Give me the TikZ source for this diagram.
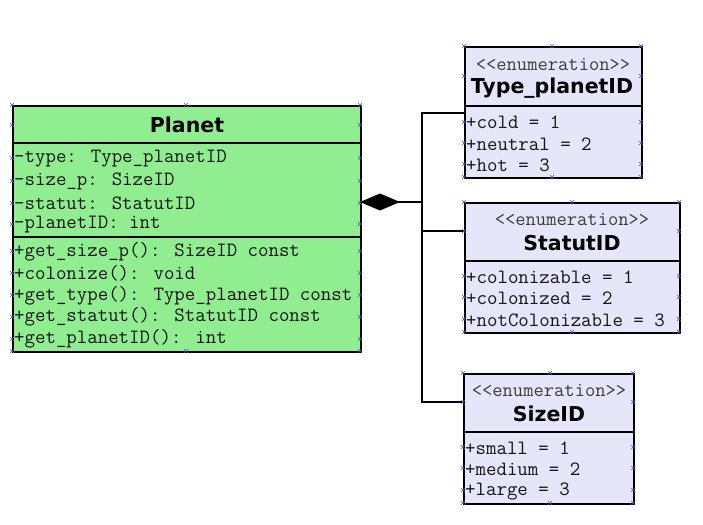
\documentclass[tikz,border=0pt]{standalone}
\usepackage{fontspec}
\newfontfamily\titlefont{DejaVu Sans}
\usetikzlibrary{arrows.meta}
\definecolor{planetgreen}{RGB}{144,238,144}
\definecolor{enumfill}{RGB}{230,230,250}
\definecolor{handle}{RGB}{80,80,210}
\definecolor{rowtext}{RGB}{20,20,20}
\definecolor{stereotext}{RGB}{60,60,60}
\tikzset{
  classbox/.style={draw=black, line width=1.8pt, rectangle, inner sep=0pt, anchor=north west},
  rowtxt/.style={anchor=west, inner sep=0pt, text=rowtext, font=\ttfamily\fontsize{20.3}{22}\selectfont},
  stereo/.style={inner sep=0pt, text=stereotext, font=\ttfamily\fontsize{20}{22}\selectfont},
  titletxt/.style={inner sep=0pt, font=\titlefont\bfseries\fontsize{20.5}{24}\selectfont},
  sep/.style={line width=1.8pt},
  conn/.style={line width=1.8pt},
  hx/.style={draw=handle, line width=0.6pt}
}
\newcommand\hx[2]{\draw[hx] (#1-2,#2-2) -- (#1+2,#2+2) (#1-2,#2+2) -- (#1+2,#2-2);}
\begin{document}
\begin{tikzpicture}[x=1pt,y=-1pt]
\useasboundingbox (0,0) rectangle (703,524);

% ---------- Planet ----------
\node[classbox, fill=planetgreen, minimum width=348pt, minimum height=246pt] (planet) at (12,105) {};
\draw[sep] (12,142.7) -- (360,142.7);
\draw[sep] (12,236.7) -- (360,236.7);
\node[titletxt] (planetT) at (187,125) {Planet};
\node[rowtxt] (pa1) at (14,158.8) {-type: Type\_planetID};
\node[rowtxt] (pa2) at (14,181.2) {-size\_p: SizeID};
\node[rowtxt] (pa3) at (14,203.2) {-statut: StatutID};
\node[rowtxt] (pa4) at (14,224.5) {-planetID: int};
\node[rowtxt] (pm1) at (14,251.5) {+get\_size\_p(): SizeID const};
\node[rowtxt] (pm2) at (14,273.2) {+colonize(): void};
\node[rowtxt] (pm3) at (14,295.5) {+get\_type(): Type\_planetID const};
\node[rowtxt] (pm4) at (14,317.2) {+get\_statut(): StatutID const};
\node[rowtxt] (pm5) at (14,339.2) {+get\_planetID(): int};

% ---------- Type_planetID ----------
\node[classbox, fill=enumfill, minimum width=177pt, minimum height=131pt] (tp) at (464,46) {};
\draw[sep] (464,106.3) -- (641,106.3);
\node[stereo] (tpS) at (553,64.3) {<<enumeration>>};
\node[titletxt] (tpT) at (552,88) {Type\_planetID};
\node[rowtxt] (tp1) at (466,122.2) {+cold = 1};
\node[rowtxt] (tp2) at (466,143.8) {+neutral = 2};
\node[rowtxt] (tp3) at (466,164.8) {+hot = 3};

% ---------- StatutID ----------
\node[classbox, fill=enumfill, minimum width=215pt, minimum height=130.6pt] (st) at (464,201.7) {};
\draw[sep] (464,261.3) -- (679,261.3);
\node[stereo] (stS) at (572,219.3) {<<enumeration>>};
\node[titletxt] (stT) at (572,243) {StatutID};
\node[rowtxt] (st1) at (466,277.2) {+colonizable = 1};
\node[rowtxt] (st2) at (466,297.8) {+colonized = 2};
\node[rowtxt] (st3) at (466,319.8) {+notColonizable = 3};

% ---------- SizeID ----------
\node[classbox, fill=enumfill, minimum width=170.6pt, minimum height=130.6pt] (sz) at (462.7,372.7) {};
\draw[sep] (462.7,432.3) -- (633.3,432.3);
\node[stereo] (szS) at (549,390.7) {<<enumeration>>};
\node[titletxt] (szT) at (549,414.3) {SizeID};
\node[rowtxt] (sz1) at (465,447.8) {+small = 1};
\node[rowtxt] (sz2) at (465,468.8) {+medium = 2};
\node[rowtxt] (sz3) at (465,491.5) {+large = 3};

% ---------- connectors ----------
\coordinate (dia) at (360,202);
\coordinate (jn) at (422,202);
\coordinate (tpIn) at (464,112.7);
\coordinate (stIn) at (464,231.3);
\coordinate (szIn) at (462.7,402);
\draw[conn, {Diamond[length=40pt,width=17pt]}-] (dia) -- (jn);
\draw[conn] (tpIn) -| (jn);
\draw[conn] (jn) |- (szIn);
\draw[conn] (422,231.3) -- (stIn);

% ---------- selection handles ----------
\foreach \y in {105,125,158,181,203,224,251,273,295,317,339,351} {\hx{12}{\y}\hx{360}{\y}}
\hx{186}{105}\hx{186}{351}
\foreach \y in {46,76,122,143,164,177} {\hx{464}{\y}\hx{641}{\y}}
\hx{552}{46}\hx{552}{177}
\foreach \y in {202,231,276,297,319,332} {\hx{464}{\y}\hx{679}{\y}}
\hx{572}{202}\hx{572}{332}
\foreach \y in {373,402,447,468,490,503} {\hx{462.7}{\y}\hx{633.3}{\y}}
\hx{550}{373}\hx{550}{503}
\end{tikzpicture}
\end{document}
